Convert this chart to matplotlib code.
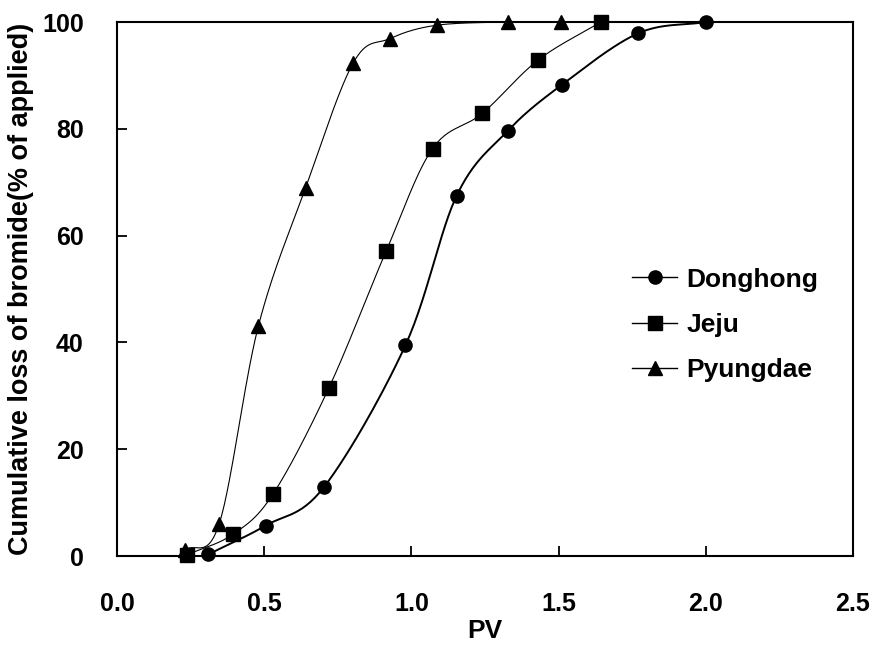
import numpy as np
import matplotlib
matplotlib.use('Agg')
import matplotlib.pyplot as plt

# 누적 브롬화물 손실 곡선 (PV 대비)
pv_donghong = [0.31, 0.505, 0.703, 0.98, 1.154, 1.327, 1.51, 1.771, 2.0]
loss_donghong = [0.3, 5.7, 12.9, 39.5, 67.5, 79.6, 88.2, 97.9, 100.0]

pv_jeju = [0.237, 0.395, 0.53, 0.72, 0.915, 1.072, 1.241, 1.431, 1.643]
loss_jeju = [0.2, 4.1, 11.6, 31.5, 57.2, 76.3, 82.9, 92.9, 100.0]

pv_pyungdae = [0.23, 0.347, 0.48, 0.641, 0.803, 0.927, 1.086, 1.329, 1.508]
loss_pyungdae = [1.1, 6.0, 43.0, 69.0, 92.4, 96.9, 99.4, 100.0, 100.0]

x_ticks = [0.0, 0.5, 1.0, 1.5, 2.0, 2.5]
y_ticks = [0, 20, 40, 60, 80, 100]

FONT = ['Liberation Sans', 'DejaVu Sans']
plt.rcParams['font.family'] = FONT
plt.rcParams['font.weight'] = 'bold'


def smooth(xs, ys, n=30):
    # catmull-rom 곡선 (엑셀 부드러운 선 비슷하게)
    p = np.column_stack([xs, ys]).astype(float)
    p = np.vstack([2 * p[0] - p[1], p, 2 * p[-1] - p[-2]])
    out = []
    t = np.linspace(0, 1, n)[:, None]
    for i in range(1, len(p) - 2):
        p0, p1, p2, p3 = p[i - 1], p[i], p[i + 1], p[i + 2]
        seg = 0.5 * ((2 * p1) + (-p0 + p2) * t
                     + (2 * p0 - 5 * p1 + 4 * p2 - p3) * t ** 2
                     + (-p0 + 3 * p1 - 3 * p2 + p3) * t ** 3)
        out.append(seg if i == 1 else seg[1:])
    out = np.vstack(out)
    return out[:, 0], out[:, 1]


fig = plt.figure(figsize=(8.71, 6.46), dpi=100)
ax = fig.add_axes([0.1343, 0.1393, 0.8450, 0.8266])

series = [
    (pv_donghong, loss_donghong, 'o', 1.4, 'Donghong'),
    (pv_jeju, loss_jeju, 's', 0.8, 'Jeju'),
    (pv_pyungdae, loss_pyungdae, '^', 0.8, 'Pyungdae'),
]
handles = []
for xs, ys, mk, lw, name in series:
    sx, sy = smooth(xs, ys)
    ax.plot(sx, sy, color='black', lw=lw)
    ax.plot(xs, ys, linestyle='none', marker=mk, color='black', ms=9.5,
            clip_on=False, zorder=3)
    # 범례용 핸들
    h, = ax.plot([], [], color='black', lw=1.0, marker=mk, ms=9.5, label=name)
    handles.append(h)

ax.set_xlim(0, 2.5)
ax.set_ylim(0, 100)
ax.set_xticks(x_ticks)
ax.set_xticklabels(['%.1f' % v for v in x_ticks])
ax.set_yticks(y_ticks)

for s in ax.spines.values():
    s.set_linewidth(1.5)
ax.tick_params(direction='in', length=7, width=1.3, top=False, right=False,
               labelsize=18)
ax.tick_params(axis='y', pad=24)
ax.tick_params(axis='x', pad=26)

ax.set_xlabel('PV', fontsize=19, fontweight='bold', labelpad=2)
ax.set_ylabel('Cumulative loss of bromide(% of applied)', fontsize=19.5,
              fontweight='bold', labelpad=6)

ax.legend(handles=handles, loc='upper left', bbox_to_anchor=(0.70, 0.54),
          frameon=False, prop={'family': FONT, 'weight': 'bold', 'size': 19},
          handlelength=1.7, handletextpad=0.35, labelspacing=0.8,
          borderpad=0, borderaxespad=0)

fig.savefig('out.png', dpi=100)
